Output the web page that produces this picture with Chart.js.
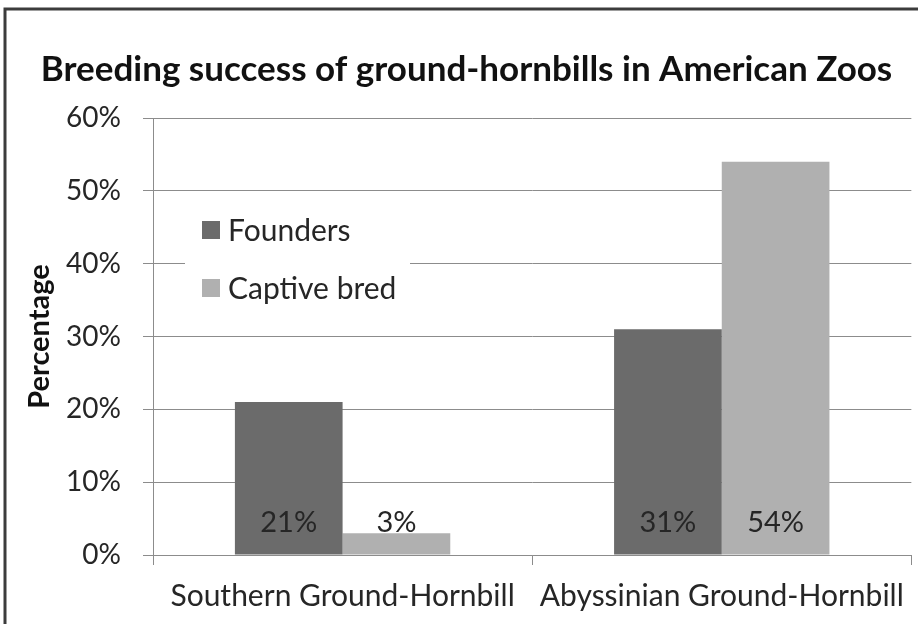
<!DOCTYPE html>
<html>
<head>
<meta charset="utf-8">
<script src="https://cdn.jsdelivr.net/npm/chart.js@4/dist/chart.umd.min.js"></script>
<style>
  html, body { margin: 0; padding: 0; background: #fff; }
  #wrap { width: 918px; height: 624px; }
</style>
</head>
<body>
<div id="wrap"><canvas id="chart" width="918" height="624"></canvas></div>
<script>
const categories = ['Southern Ground-Hornbill', 'Abyssinian Ground-Hornbill']
const founders = [21, 31]
const captive_bred = [3, 54]
const series_names = ['Founders', 'Captive bred']
const y_ticks = [0, 10, 20, 30, 40, 50, 60]

const FONT = "Lato, 'Noto Sans', sans-serif"
const TEXT = '#262626'
const LINE = '#8c8c8c'

// frame like the old exported picture: top and left edge only
const framePlugin = {
  id: 'frame',
  afterDraw (chart) {
    const c = chart.ctx
    c.save()
    c.strokeStyle = '#3c3c3c'
    c.lineWidth = 3
    c.beginPath()
    c.moveTo(5, chart.height)
    c.lineTo(5, 9)
    c.lineTo(chart.width, 9)
    c.stroke()
    c.restore()
  }
}

// legend sits inside the plot, with a white box over the grid
const innerLegend = {
  id: 'innerLegend',
  afterDatasetsDraw (chart) {
    const c = chart.ctx
    const area = chart.chartArea
    const x0 = area.left + 32
    const y0 = area.top + 84
    c.save()
    c.fillStyle = '#fff'
    c.fillRect(x0, y0, 225, 116)
    c.font = '30px ' + FONT
    c.textBaseline = 'middle'
    chart.data.datasets.forEach((ds, i) => {
      const cy = y0 + 28 + i * 58
      c.fillStyle = ds.backgroundColor
      c.fillRect(x0 + 17, cy - 9, 18, 18)
      c.fillStyle = TEXT
      c.fillText(ds.label, x0 + 43, cy + 1)
    })
    c.restore()
  }
}

// value labels near the foot of each bar
const barLabels = {
  id: 'barLabels',
  afterDatasetsDraw (chart) {
    const c = chart.ctx
    c.save()
    c.font = '29px ' + FONT
    c.fillStyle = TEXT
    c.textAlign = 'center'
    c.textBaseline = 'middle'
    chart.data.datasets.forEach((ds, i) => {
      chart.getDatasetMeta(i).data.forEach((bar, j) => {
        c.fillText(ds.data[j] + '%', bar.x, bar.base - 32)
      })
    })
    c.restore()
  }
}

new Chart(document.getElementById('chart').getContext('2d'), {
  type: 'bar',
  data: {
    labels: categories,
    datasets: [
      {
        label: series_names[0],
        data: founders,
        backgroundColor: '#6b6b6b',
        borderWidth: 0,
        barPercentage: 1,
        categoryPercentage: 0.568
      },
      {
        label: series_names[1],
        data: captive_bred,
        backgroundColor: '#b0b0b0',
        borderWidth: 0,
        barPercentage: 1,
        categoryPercentage: 0.568
      }
    ]
  },
  options: {
    responsive: false,
    animation: false,
    layout: { padding: { left: 20, right: 5, top: 0, bottom: 0 } },
    plugins: {
      legend: { display: false },
      tooltip: { enabled: false },
      title: {
        display: true,
        text: 'Breeding success of ground-hornbills in American Zoos',
        color: '#111',
        font: { family: FONT, size: 35, weight: 'bold' },
        padding: { top: 49, bottom: 27 }
      }
    },
    scales: {
      x: {
        afterFit: scale => { scale.height = 69 },
        grid: {
          drawOnChartArea: false,
          color: LINE,
          tickLength: 10,
          offset: true
        },
        border: { color: LINE },
        ticks: {
          color: TEXT,
          padding: 13,
          font: { family: FONT, size: 30 }
        }
      },
      y: {
        min: 0,
        max: 60,
        afterFit: scale => { scale.width = 133 },
        afterBuildTicks: scale => {
          scale.ticks = y_ticks.map(v => ({ value: v }))
        },
        grid: { color: LINE, tickLength: 10 },
        border: { color: LINE },
        ticks: {
          color: TEXT,
          padding: 22,
          font: { family: FONT, size: 28 },
          callback: value => value + '%'
        },
        title: {
          display: true,
          text: 'Percentage',
          color: '#111',
          font: { family: FONT, size: 29, weight: 'bold' },
          padding: { top: 2, bottom: 0 }
        }
      }
    }
  },
  plugins: [framePlugin, innerLegend, barLabels]
})
</script>
</body>
</html>
